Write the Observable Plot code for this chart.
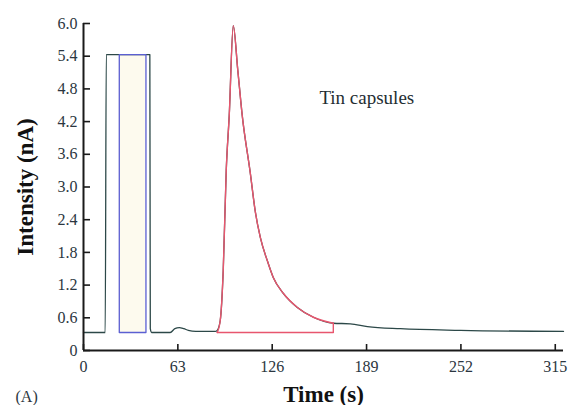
<!DOCTYPE html>
<html>
<head>
<meta charset="utf-8">
<script src="https://cdn.jsdelivr.net/npm/d3@7"></script>
<script src="https://cdn.jsdelivr.net/npm/@observablehq/plot@0.6"></script>
<style>
  html, body { margin: 0; padding: 0; background: #fff; }
  #chart svg { display: block; }
</style>
</head>
<body>
<div id="chart"></div>
<script>
// Time (s) / Intensity (nA) of the measured trace (black)
const timeTrace = [0, 14.5, 15.2, 44.3, 44.6, 45.5, 46.5, 57.9, 61, 64, 67, 70, 75, 88.0,
  89.3, 91.3, 93.3, 95.3, 97.3, 100.0, 103.0, 106.0, 111.4, 114.7, 118.1, 122.7, 126.7, 133.4,
  142.8, 153.5, 166.8, 178.2, 189.6, 211.6, 251.7, 320.5];
const intensityTrace = [0.33, 0.33, 5.43, 5.43, 0.40, 0.33, 0.33, 0.33, 0.40, 0.42, 0.40, 0.37, 0.35, 0.35,
  0.37, 0.55, 1.47, 3.30, 4.31, 5.96, 5.15, 4.31, 3.25, 2.55, 2.07, 1.65, 1.34, 1.05,
  0.79, 0.61, 0.50, 0.49, 0.44, 0.40, 0.37, 0.35];

// Integration window of the first (saturated) peak (blue)
const timeWindow = [23.9, 23.9, 41.7, 41.7, 23.9];
const intensityWindow = [0.33, 5.43, 5.43, 0.33, 0.33];

// Integrated area of the tin capsule peak (red)
const timePeak = [89.3, 91.3, 93.3, 95.3, 97.3, 100.0, 103.0, 106.0, 111.4, 114.7, 118.1, 122.7,
  126.7, 133.4, 142.8, 153.5, 166.8, 166.8, 89.3];
const intensityPeak = [0.33, 0.55, 1.47, 3.30, 4.31, 5.96, 5.15, 4.31, 3.25, 2.55, 2.07, 1.65,
  1.34, 1.05, 0.79, 0.61, 0.50, 0.33, 0.33];

const xTicks = [0, 63, 126, 189, 252, 315];
const yTicks = [0, 0.6, 1.2, 1.8, 2.4, 3.0, 3.6, 4.2, 4.8, 5.4, 6.0];

const trace = timeTrace.map((t, i) => ({t, v: intensityTrace[i]}));
const windowRect = timeWindow.map((t, i) => ({t, v: intensityWindow[i]}));
const peak = timePeak.map((t, i) => ({t, v: intensityPeak[i]}));

const serif = "'Liberation Serif', 'Times New Roman', serif";
const labelColor = "#2b3640";
const axisColor = "#1a1a1a";

const chart = Plot.plot({
  width: 569,
  height: 405,
  marginLeft: 83,
  marginRight: 6,
  marginTop: 23,
  marginBottom: 55,
  style: {fontFamily: serif, background: "#fff"},
  x: {domain: [0, 320.5]},
  y: {domain: [0, 6.0]},
  marks: [
    Plot.areaY(windowRect.slice(1, 3), {x: "t", y1: 0.33, y2: "v", fill: "#fdfaee"}),
    Plot.line(trace, {x: "t", y: "v", stroke: "#2c4848", strokeWidth: 1.3, curve: "monotone-x"}),
    Plot.line(windowRect, {x: "t", y: "v", stroke: "#5b5fd2", strokeWidth: 1.3}),
    Plot.line(peak.slice(0, 17), {x: "t", y: "v", stroke: "#e8566e", strokeWidth: 1.4, curve: "monotone-x"}),
    Plot.line(peak.slice(16), {x: "t", y: "v", stroke: "#e8566e", strokeWidth: 1.4}),
    // inward tick marks
    Plot.axisY({ticks: yTicks, tickSize: 7, dx: 7, tickFormat: () => "", label: null,
      stroke: axisColor, strokeWidth: 1.6}),
    Plot.axisX({ticks: xTicks, tickSize: 6, dy: -6, tickFormat: () => "", label: null,
      stroke: axisColor, strokeWidth: 1.6}),
    // tick labels
    Plot.axisY({ticks: yTicks, tickSize: 0, tickPadding: 6, label: null,
      tickFormat: d => d === 0 ? "0" : d.toFixed(1), fontSize: 16, fill: labelColor}),
    Plot.axisX({ticks: xTicks, tickSize: 0, tickPadding: 10, label: null,
      tickFormat: d => String(d), fontSize: 16, fill: labelColor}),
    Plot.ruleX([0], {stroke: axisColor, strokeWidth: 2}),
    Plot.ruleY([0], {stroke: axisColor, strokeWidth: 2}),
    Plot.text(["Tin capsules"], {x: 157.5, y: 4.53, textAnchor: "start", lineAnchor: "bottom",
      fontSize: 19, fill: "#1f2e33"}),
    Plot.text(["Intensity (nA)"], {frameAnchor: "left", dx: -51, rotate: -90, textAnchor: "middle",
      lineAnchor: "bottom", fontSize: 23, fontWeight: "bold", fill: "#111"}),
    Plot.text(["Time (s)"], {frameAnchor: "bottom", dy: 51, textAnchor: "middle",
      lineAnchor: "bottom", fontSize: 23, fontWeight: "bold", fill: "#111"}),
    Plot.text(["(A)"], {frameAnchor: "bottom-left", dx: -68, dy: 51, textAnchor: "start",
      lineAnchor: "bottom", fontSize: 16, fill: labelColor})
  ]
});
document.getElementById("chart").append(chart);
</script>
</body>
</html>
